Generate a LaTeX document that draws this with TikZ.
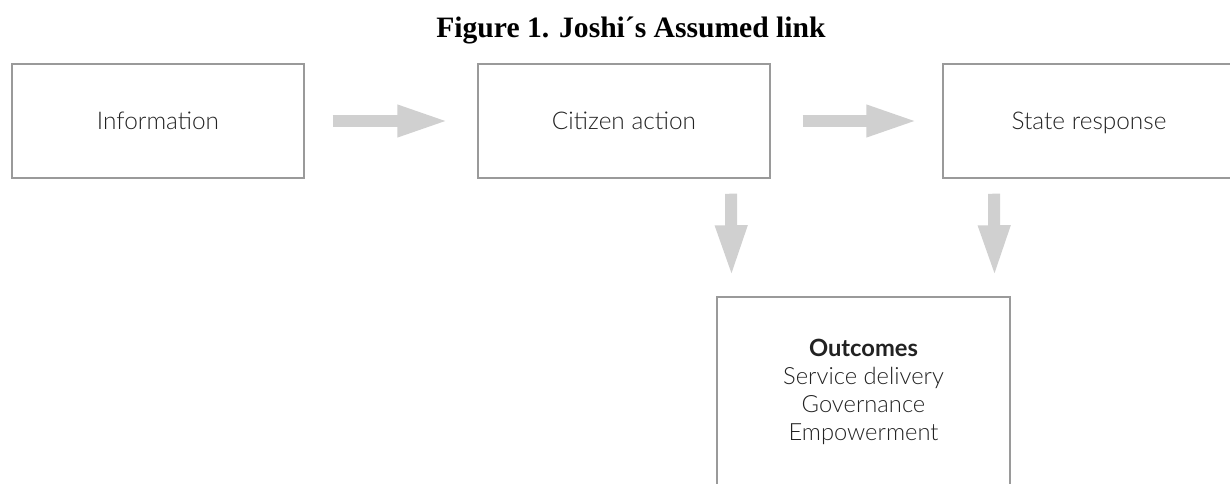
\documentclass[tikz,border=0pt]{standalone}
\usepackage{fontspec}
\setmainfont{Lato}[UprightFont={* Light}, BoldFont={* Bold}]
\newfontfamily\titlefont{Liberation Serif}
\usetikzlibrary{arrows.meta}
\definecolor{arrowgray}{HTML}{D0D0D0}
\definecolor{boxline}{HTML}{9A9A9A}
\definecolor{boxtext}{HTML}{222222}
\tikzset{
  x=0.75pt, y=-0.75pt,
  stagebox/.style={draw=boxline, line width=1.1pt, rectangle, inner sep=0pt,
    minimum width=219pt, minimum height=85.5pt, text=boxtext,
    font=\fontsize{18.3pt}{22pt}\selectfont, text height=13pt, text depth=0pt},
  outbox/.style={draw=boxline, line width=1.1pt, rectangle, inner sep=0pt,
    minimum width=219.75pt, minimum height=142.5pt, text=boxtext, align=center,
    font=\fontsize{17.8pt}{21pt}\selectfont},
  flow/.style={draw=arrowgray, line width=9pt,
    -{Triangle[length=39pt, width=21.75pt, fill=arrowgray]}},
}
\begin{document}
\begin{tikzpicture}
\useasboundingbox (0,0) rectangle (1230,483);
\clip (0,0) rectangle (1230,483);
% title
\node[anchor=base, font=\titlefont\bfseries\fontsize{22.2pt}{26pt}\selectfont] (title) at (631,37)
  {Figure 1. Joshi´s Assumed link};
% stages
\node[stagebox] (info) at (158,121) {Information};
\node[stagebox] (cit) at (624,121) {Citizen action};
\node[stagebox] (state) at (1089,121) {State response};
\node[outbox] (out) at (863.5,392)
  {\textbf{Outcomes}\\Service delivery\\Governance\\Empowerment};
% links
\draw[flow] ([xshift=21pt]info.east) -- ([xshift=-21pt]cit.west);
\draw[flow] ([xshift=24pt]cit.east) -- ([xshift=-18pt]state.west);
\draw[flow] ([xshift=80.25pt,yshift=-11.25pt]cit.south) -- ([xshift=-99pt,yshift=14.25pt]out.north);
\draw[flow] ([xshift=-71.25pt,yshift=-11.25pt]state.south) -- ([xshift=98.25pt,yshift=14.25pt]out.north);
\end{tikzpicture}
\end{document}
